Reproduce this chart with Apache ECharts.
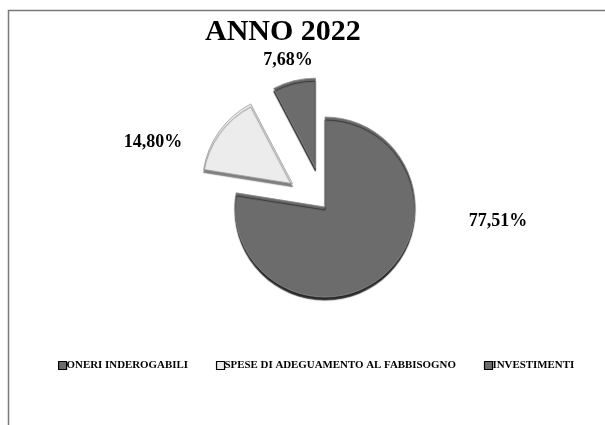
<!DOCTYPE html>
<html>
<head>
<meta charset="utf-8">
<script src="https://cdn.jsdelivr.net/npm/echarts@6/dist/echarts.min.js"></script>
<style>
  html, body { margin: 0; padding: 0; background: #fff; }
  #chart { width: 605px; height: 425px; }
</style>
</head>
<body>
<div id="chart"></div>
<script>
// Ripartizione della spesa, anno 2022
const categories = ['ONERI INDEROGABILI', 'SPESE DI ADEGUAMENTO AL FABBISOGNO', 'INVESTIMENTI'];
const shares = [77.51, 14.80, 7.68];
const exploded = [false, true, true];

// Slice appearance and label anchors (px)
const sliceFill = ['#6c6c6c', '#ececec', '#6c6c6c'];
const sliceEdge = ['#8a8a8a', '#9a9a9a', '#8a8a8a'];
const sliceSide = ['rgba(30,30,30,0.95)', 'rgba(120,120,120,0.95)', 'rgba(30,30,30,0.95)'];
const labelAnchors = [[498, 221], [153, 142], [288, 60]];

const serif = '"Liberation Serif", "Times New Roman", serif';

const fmt = v => v.toFixed(2).replace('.', ',') + '%';

const chart = echarts.init(document.getElementById('chart'), null, { renderer: 'canvas' });

// Frame plus the percentage labels placed beside each slice
const graphics = [{
  type: 'rect',
  shape: { x: 8.5, y: 10.5, width: 800, height: 600 },
  style: { fill: 'none', stroke: '#7a7a7a', lineWidth: 1.5 },
  silent: true
}].concat(shares.map((v, i) => ({
  type: 'text',
  x: labelAnchors[i][0],
  y: labelAnchors[i][1],
  silent: true,
  z: 10,
  style: {
    text: fmt(v),
    align: 'center',
    verticalAlign: 'middle',
    fontFamily: serif,
    fontWeight: 'bold',
    fontSize: 18,
    fill: '#000'
  }
})));

chart.setOption({
  animation: false,
  backgroundColor: '#ffffff',
  graphic: graphics,
  title: {
    text: 'ANNO 2022',
    left: 200,
    top: 12,
    textStyle: { fontFamily: serif, fontWeight: 'bold', fontSize: 30, color: '#000' }
  },
  legend: {
    data: categories,
    left: 53,
    top: 355,
    itemWidth: 8,
    itemHeight: 8,
    itemGap: 28,
    icon: 'rect',
    itemStyle: { borderColor: '#000', borderWidth: 1.2 },
    textStyle: { fontFamily: serif, fontWeight: 'bold', fontSize: 10.9, color: '#000', padding: [0, 0, 0, -5] }
  },
  series: [{
    type: 'pie',
    center: [325, 207],
    radius: 90,
    startAngle: 90,
    clockwise: true,
    selectedMode: 'multiple',
    selectedOffset: 40,
    emphasis: { disabled: true },
    label: { show: false },
    labelLine: { show: false },
    data: categories.map((name, i) => ({
      name,
      value: shares[i],
      selected: exploded[i],
      itemStyle: {
        color: sliceFill[i],
        borderColor: sliceEdge[i],
        borderWidth: 0.8,
        shadowColor: sliceSide[i],
        shadowBlur: 1,
        shadowOffsetX: 0,
        shadowOffsetY: 3
      }
    }))
  }]
});
</script>
</body>
</html>
